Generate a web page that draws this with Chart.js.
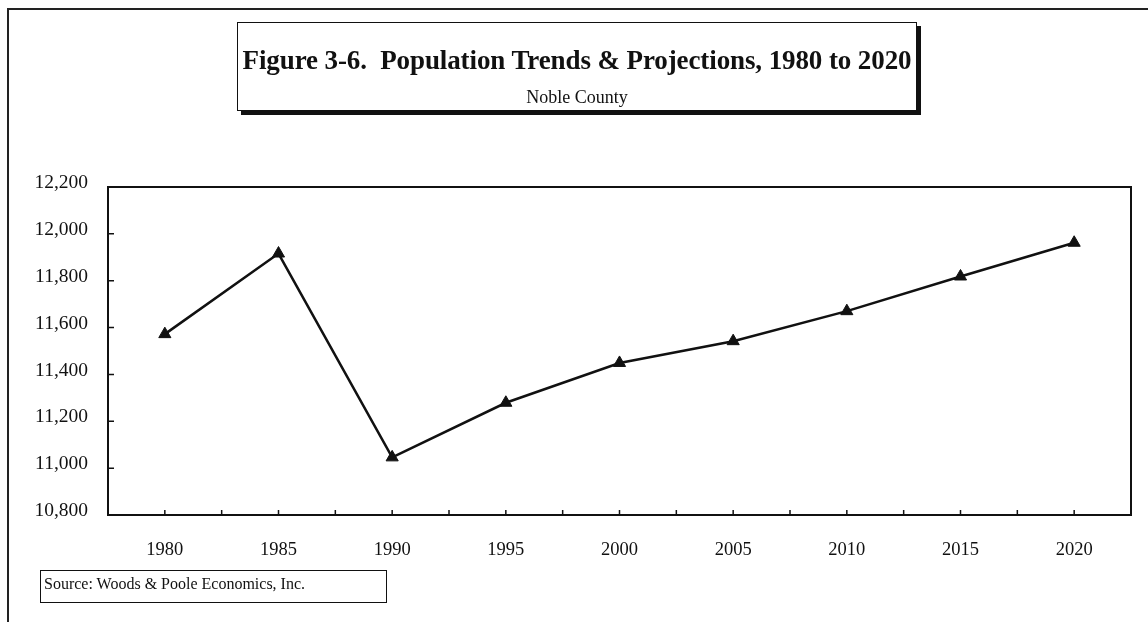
<!DOCTYPE html>
<html>
<head>
<meta charset="utf-8">
<script src="https://cdn.jsdelivr.net/npm/chart.js@4"></script>
<style>
  html, body { margin: 0; padding: 0; background: #fff; }
  #wrap { position: relative; width: 1148px; height: 622px; overflow: hidden; font-family: "Liberation Serif", "Times New Roman", serif; color: #111; }
  #frame { position: absolute; left: 7px; top: 8px; width: 1200px; height: 700px; border-left: 2px solid #222; border-top: 2px solid #222; }
  #titleBox { position: absolute; left: 237px; top: 22px; width: 678px; height: 87px; border: 1.5px solid #111; box-shadow: 4px 4px 0 #111; background: #fff; text-align: center; }
  #titleBox .main { font-weight: bold; font-size: 27px; line-height: 30px; margin-top: 22px; white-space: pre; letter-spacing: -0.1px; }
  #titleBox .sub { font-size: 18px; line-height: 22px; margin-top: 11px; }
  #sourceBox { position: absolute; left: 40px; top: 570px; width: 347px; height: 33px; border: 1.5px solid #111; font-size: 16px; box-sizing: border-box; padding: 4px 0 0 3px; }
  canvas { position: absolute; left: 0; top: 0; }
</style>
</head>
<body>
<div id="wrap">
  <canvas id="popChart" width="1148" height="622"></canvas>
  <div id="frame"></div>
  <div id="titleBox">
    <div class="main">Figure 3-6.  Population Trends &amp; Projections, 1980 to 2020</div>
    <div class="sub">Noble County</div>
  </div>
  <div id="sourceBox">Source: Woods &amp; Poole Economics, Inc.</div>
</div>
<script>
  // Noble County population, estimates and projections
  const years = ['1980', '1985', '1990', '1995', '2000', '2005', '2010', '2015', '2020'];
  const population = [11572, 11916, 11046, 11279, 11449, 11542, 11670, 11818, 11962];
  const yMin = 10800;
  const yMax = 12200;
  const yStep = 200;

  const ink = '#111';

  // box around the plot with short tick marks pointing inward
  const plotFrame = {
    id: 'plotFrame',
    beforeDatasetsDraw(chart) {
      const { ctx, chartArea: a, scales } = chart;
      ctx.save();
      ctx.strokeStyle = ink;
      ctx.lineWidth = 2;
      ctx.strokeRect(a.left, a.top, a.right - a.left, a.bottom - a.top);

      ctx.lineWidth = 1.5;
      ctx.beginPath();
      scales.y.ticks.forEach(t => {
        if (t.value === yMin || t.value === yMax) return;
        const y = scales.y.getPixelForValue(t.value);
        ctx.moveTo(a.left, y);
        ctx.lineTo(a.left + 6, y);
      });
      const x = scales.x;
      for (let i = 0; i < years.length; i++) {
        const cx = x.getPixelForValue(i);
        ctx.moveTo(cx, a.bottom);
        ctx.lineTo(cx, a.bottom - 5);
        if (i < years.length - 1) {
          const bx = (cx + x.getPixelForValue(i + 1)) / 2;
          ctx.moveTo(bx, a.bottom);
          ctx.lineTo(bx, a.bottom - 5);
        }
      }
      ctx.stroke();
      ctx.restore();
    }
  };

  const ctx = document.getElementById('popChart').getContext('2d');
  new Chart(ctx, {
    type: 'line',
    data: {
      labels: years,
      datasets: [{
        data: population,
        borderColor: ink,
        backgroundColor: ink,
        borderWidth: 2.5,
        pointStyle: 'triangle',
        pointRadius: 7,
        pointBorderWidth: 1,
        tension: 0,
        fill: false
      }]
    },
    options: {
      responsive: false,
      animation: false,
      devicePixelRatio: 1,
      layout: { padding: { top: 187, right: 17, bottom: 57, left: 0 } },
      plugins: {
        legend: { display: false },
        tooltip: { enabled: false },
        title: { display: false }
      },
      scales: {
        x: {
          offset: true,
          grid: { display: false, drawTicks: false },
          border: { display: false },
          ticks: {
            color: ink,
            padding: 24,
            maxRotation: 0,
            font: { family: 'Liberation Serif', size: 18.5 }
          },
          afterFit(scale) { scale.height = 50; }
        },
        y: {
          min: yMin,
          max: yMax,
          grid: { display: false, drawTicks: false },
          border: { display: false },
          ticks: {
            stepSize: yStep,
            color: ink,
            padding: 20,
            labelOffset: -4,
            font: { family: 'Liberation Serif', size: 19.5 },
            callback: v => v.toLocaleString('en-US')
          },
          afterFit(scale) { scale.width = 108; }
        }
      }
    },
    plugins: [plotFrame]
  });
</script>
</body>
</html>
